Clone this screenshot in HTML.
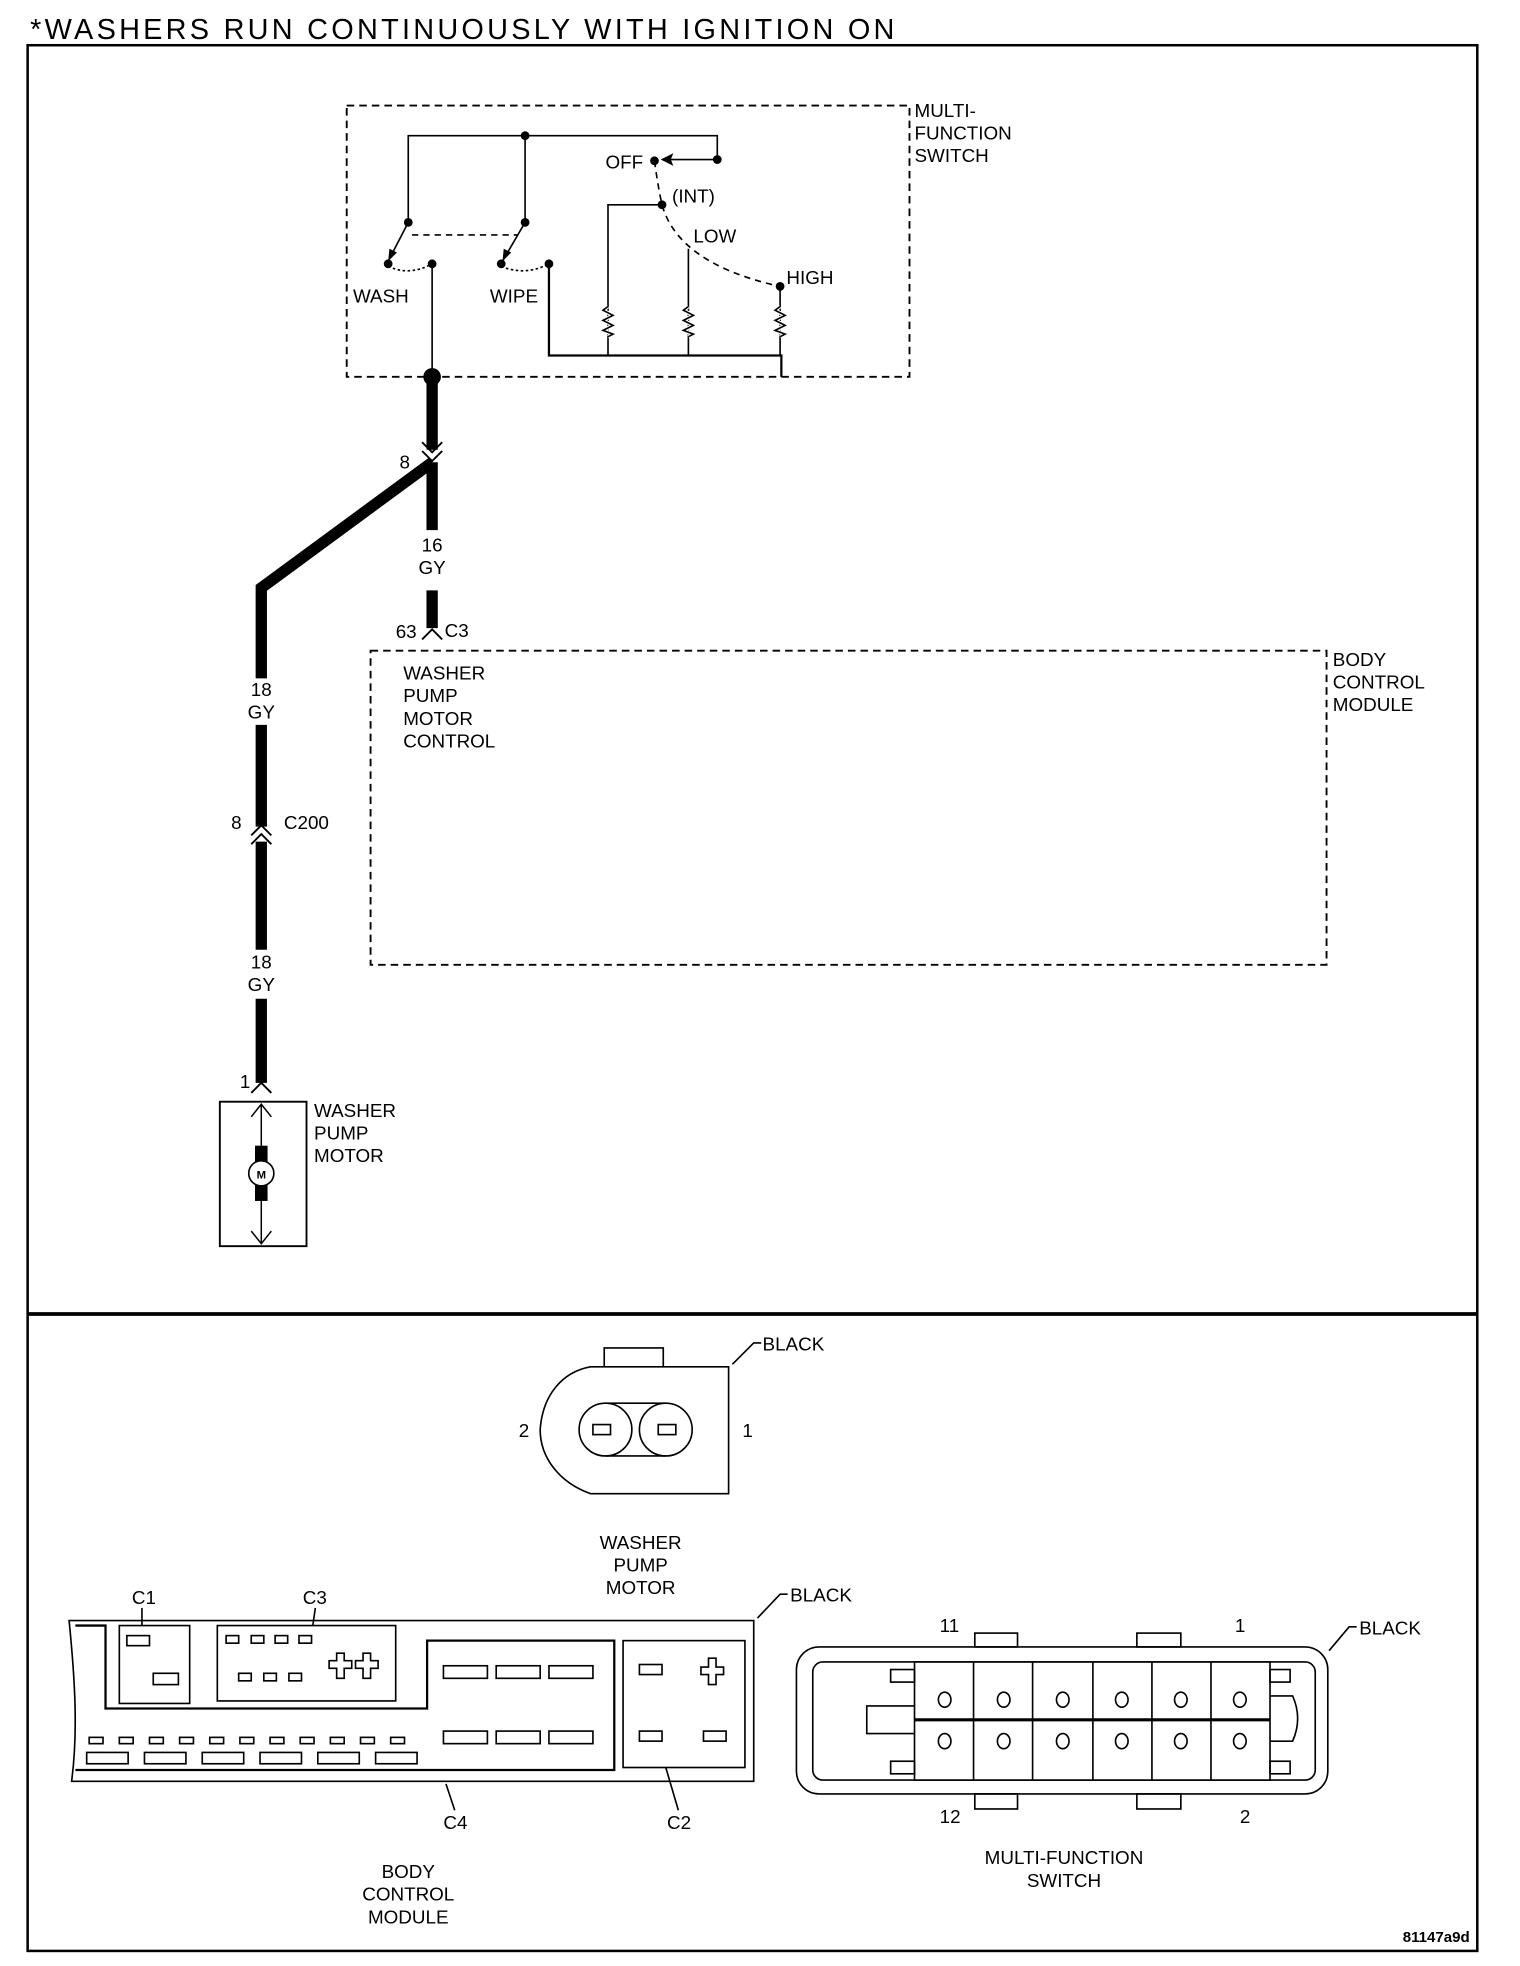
<!DOCTYPE html>
<html><head><meta charset="utf-8"><style>
html,body{margin:0;padding:0;background:#fff;}
svg{display:block;}
text{font-family:"Liberation Sans",sans-serif;font-size:15px;fill:#000;}
</style></head><body>
<svg width="1520" height="1966" viewBox="0 0 1210 1565" preserveAspectRatio="none" xmlns="http://www.w3.org/2000/svg">
<rect width="1210" height="1565" fill="#fff"/>
<text x="24" y="31" style="font-size:23px" textLength="688">*WASHERS RUN CONTINUOUSLY WITH IGNITION ON</text>
<rect x="22" y="36" width="1154" height="1517" fill="none" stroke="#000" stroke-width="2"/>
<line x1="22" y1="1046" x2="1176" y2="1046" stroke="#000" stroke-width="3"/>

<!-- MFS dashed box -->
<rect x="276" y="84" width="448" height="216" fill="none" stroke="#000" stroke-width="1.5" stroke-dasharray="6,4"/>
<text x="728" y="93">MULTI-</text><text x="728" y="111">FUNCTION</text><text x="728" y="129">SWITCH</text>
<g stroke="#000" stroke-width="1.3" fill="none">
<polyline points="325,177 325,108 571,108 571,127"/>
<line x1="418" y1="108" x2="418" y2="177"/>
<line x1="571" y1="127" x2="527" y2="127"/>
<line x1="325" y1="177" x2="309" y2="208"/>
<line x1="418" y1="177" x2="400" y2="208"/>
<line x1="328" y1="187" x2="412" y2="187" stroke-dasharray="5,4"/>
<path d="M309,212 Q326,220 344,210" stroke-dasharray="2,2"/>
<path d="M399,212 Q418,220 437,210" stroke-dasharray="2,2"/>
<line x1="344" y1="210" x2="344" y2="300"/>
<polyline points="437,210 437,283 622,283 622,300" stroke-width="1.8"/>
<polyline points="527,163 484,163 484,283"/>
<line x1="548" y1="198" x2="548" y2="283"/>
<line x1="621" y1="228" x2="621" y2="283"/>
<path d="M521,128 Q524,150 527,163 Q540,210 621,228" stroke-dasharray="5,4"/>
<polyline points="484,244 480,247 488,251 480,255 488,259 480,263 488,266 484,268" stroke="#fff" stroke-width="3"/>
<polyline points="484,244 480,247 488,251 480,255 488,259 480,263 488,266 484,268"/>
<polyline points="548,244 544,247 552,251 544,255 552,259 544,263 552,266 548,268" stroke="#fff" stroke-width="3"/>
<polyline points="548,244 544,247 552,251 544,255 552,259 544,263 552,266 548,268"/>
<polyline points="621,244 617,247 625,251 617,255 625,259 617,263 625,266 621,268" stroke="#fff" stroke-width="3"/>
<polyline points="621,244 617,247 625,251 617,255 625,259 617,263 625,266 621,268"/>
</g>
<g fill="#000">
<circle cx="418" cy="108" r="3.5"/><circle cx="571" cy="127" r="3.5"/><circle cx="521" cy="128" r="3.5"/>
<circle cx="325" cy="177" r="3.5"/><circle cx="418" cy="177" r="3.5"/>
<circle cx="309" cy="210" r="3.5"/><circle cx="344" cy="210" r="3.5"/>
<circle cx="399" cy="210" r="3.5"/><circle cx="437" cy="210" r="3.5"/>
<circle cx="527" cy="163" r="3.5"/><circle cx="621" cy="228" r="3.5"/>
<polygon points="526,127 536,122 534,127 536,132"/>
<polygon points="309,208 310,198 316,201"/>
<polygon points="400,208 401,198 407,201"/>
<circle cx="344" cy="300" r="7"/>
</g>
<text x="482" y="134">OFF</text><text x="535" y="161">(INT)</text><text x="552" y="193">LOW</text><text x="626" y="226">HIGH</text>
<text x="281" y="241">WASH</text><text x="390" y="241">WIPE</text>

<!-- thick wires -->
<g stroke="#000" stroke-width="9" fill="none">
<line x1="344" y1="300" x2="344" y2="358"/>
<polyline points="344,368 208,468 208,540"/>
<line x1="344" y1="368" x2="344" y2="422"/>
<line x1="344" y1="470" x2="344" y2="500"/>
<line x1="208" y1="577" x2="208" y2="658"/>
<line x1="208" y1="670" x2="208" y2="756"/>
<line x1="208" y1="795" x2="208" y2="862"/>
</g>
<g stroke="#000" stroke-width="1.5" fill="none">
<polyline points="336,352 344,360 352,352"/><polyline points="336,359 344,367 352,359"/>
<polyline points="336,509 344,501 352,509"/>
<polyline points="200,665 208,657 216,665"/><polyline points="200,672 208,664 216,672"/>
<polyline points="200,870 208,862 216,870"/>
</g>
<text x="318" y="373">8</text>
<text x="344" y="439" text-anchor="middle">16</text><text x="344" y="457" text-anchor="middle">GY</text>
<text x="315" y="508">63</text><text x="354" y="507">C3</text>
<text x="208" y="554" text-anchor="middle">18</text><text x="208" y="572" text-anchor="middle">GY</text>
<text x="184" y="660">8</text><text x="226" y="660">C200</text>
<text x="208" y="771" text-anchor="middle">18</text><text x="208" y="789" text-anchor="middle">GY</text>
<text x="191" y="866">1</text>

<!-- BCM dashed -->
<rect x="295" y="518" width="761" height="250" fill="none" stroke="#000" stroke-width="1.5" stroke-dasharray="6,4"/>
<text x="1061" y="530">BODY</text><text x="1061" y="548">CONTROL</text><text x="1061" y="566">MODULE</text>
<text x="321" y="541">WASHER</text><text x="321" y="559">PUMP</text><text x="321" y="577">MOTOR</text><text x="321" y="595">CONTROL</text>

<!-- motor -->
<rect x="175" y="877" width="69" height="115" fill="none" stroke="#000" stroke-width="1.5"/>
<g stroke="#000" stroke-width="1.2" fill="none">
<line x1="208" y1="879" x2="208" y2="990"/>
<polyline points="200,889 208,879 216,889"/><polyline points="200,980 208,990 216,980"/>
</g>
<rect x="203" y="912" width="10" height="44" fill="#000"/>
<circle cx="208" cy="934" r="10" fill="#fff" stroke="#000" stroke-width="1.3"/>
<text x="208" y="938" text-anchor="middle" style="font-size:9px;font-weight:bold">M</text>
<text x="250" y="889">WASHER</text><text x="250" y="907">PUMP</text><text x="250" y="925">MOTOR</text>

<!-- bottom pump connector -->
<g stroke="#000" stroke-width="1.3" fill="none">
<path d="M481,1088 V1073 H528 V1088"/>
<path d="M580,1088 V1189 H470 C445,1180 430,1160 430,1138 C432,1110 448,1092 470,1088 Z" fill="#fff"/>
<circle cx="482" cy="1138" r="21"/><circle cx="530" cy="1138" r="21"/>
<line x1="482" y1="1117" x2="530" y2="1117"/><line x1="482" y1="1159" x2="530" y2="1159"/>
<rect x="472" y="1134" width="14" height="8"/><rect x="524" y="1134" width="14" height="8"/>
<polyline points="606,1069 600,1069 583,1086"/>
</g>
<text x="413" y="1144">2</text><text x="591" y="1144">1</text>
<text x="607" y="1075">BLACK</text>
<text x="510" y="1233" text-anchor="middle">WASHER</text><text x="510" y="1251" text-anchor="middle">PUMP</text><text x="510" y="1269" text-anchor="middle">MOTOR</text>

<!-- BCM connector -->
<g stroke="#000" stroke-width="1.3" fill="none">
<path d="M55,1290 H600 V1418 H57 C62,1380 60,1340 55,1290 Z"/>
<polyline points="60,1294 84,1294 84,1360 340,1360 340,1306 489,1306 489,1409 60,1409" stroke-width="1.8"/>
<rect x="95" y="1294" width="56" height="62"/>
<rect x="173" y="1294" width="142" height="60"/>
<rect x="496" y="1306" width="97" height="101"/>
<rect x="101" y="1302" width="18" height="8"/><rect x="122" y="1332" width="20" height="9"/>
<rect x="180" y="1302" width="10" height="6"/><rect x="200" y="1302" width="10" height="6"/><rect x="219" y="1302" width="10" height="6"/><rect x="238" y="1302" width="10" height="6"/>
<rect x="190" y="1332" width="10" height="6"/><rect x="210" y="1332" width="10" height="6"/><rect x="230" y="1332" width="10" height="6"/>
<path d="M262,1322 h6 v-6 h6 v6 h6 v6 h-6 v8 h-6 v-8 h-6 z"/>
<path d="M283,1322 h6 v-6 h6 v6 h6 v6 h-6 v8 h-6 v-8 h-6 z"/>
<rect x="353" y="1326" width="35" height="10"/><rect x="395" y="1326" width="35" height="10"/><rect x="437" y="1326" width="35" height="10"/>
<rect x="353" y="1378" width="35" height="10"/><rect x="395" y="1378" width="35" height="10"/><rect x="437" y="1378" width="35" height="10"/>
<rect x="509" y="1325" width="18" height="8"/><rect x="509" y="1378" width="18" height="8"/><rect x="560" y="1378" width="18" height="8"/>
<path d="M558,1327 h6 v-7 h6 v7 h6 v6 h-6 v8 h-6 v-8 h-6 z"/>
<rect x="71" y="1383" width="11" height="5"/><rect x="95" y="1383" width="11" height="5"/><rect x="119" y="1383" width="11" height="5"/><rect x="143" y="1383" width="11" height="5"/><rect x="167" y="1383" width="11" height="5"/><rect x="191" y="1383" width="11" height="5"/><rect x="215" y="1383" width="11" height="5"/><rect x="239" y="1383" width="11" height="5"/><rect x="263" y="1383" width="11" height="5"/><rect x="287" y="1383" width="11" height="5"/><rect x="311" y="1383" width="11" height="5"/>
<rect x="69" y="1395" width="33" height="9"/><rect x="115" y="1395" width="33" height="9"/><rect x="161" y="1395" width="33" height="9"/><rect x="207" y="1395" width="33" height="9"/><rect x="253" y="1395" width="33" height="9"/><rect x="299" y="1395" width="33" height="9"/>
<line x1="113" y1="1280" x2="113" y2="1294"/><line x1="251" y1="1280" x2="249" y2="1294"/>
<line x1="362" y1="1441" x2="355" y2="1420"/><line x1="540" y1="1441" x2="530" y2="1407"/>
<polyline points="627,1269 621,1269 603,1288"/>
</g>
<text x="105" y="1277">C1</text><text x="241" y="1277">C3</text>
<text x="353" y="1456">C4</text><text x="531" y="1456">C2</text>
<text x="629" y="1275">BLACK</text>
<text x="325" y="1495" text-anchor="middle">BODY</text><text x="325" y="1513" text-anchor="middle">CONTROL</text><text x="325" y="1531" text-anchor="middle">MODULE</text>

<!-- MFS connector -->
<g stroke="#000" stroke-width="1.3" fill="none">
<rect x="634" y="1311" width="423" height="117" rx="18"/>
<rect x="647" y="1323" width="400" height="94" rx="8"/>
<rect x="776" y="1300" width="34" height="11"/><rect x="905" y="1300" width="35" height="11"/>
<rect x="776" y="1428" width="34" height="12"/><rect x="905" y="1428" width="35" height="12"/>
<rect x="728" y="1323" width="283" height="94" fill="#fff"/>
<line x1="775" y1="1323" x2="775" y2="1417"/><line x1="822" y1="1323" x2="822" y2="1417"/><line x1="870" y1="1323" x2="870" y2="1417"/><line x1="917" y1="1323" x2="917" y2="1417"/><line x1="964" y1="1323" x2="964" y2="1417"/>
<line x1="728" y1="1369" x2="1011" y2="1369" stroke-width="2.5"/>
<ellipse cx="752" cy="1353" rx="5" ry="6"/><ellipse cx="799" cy="1353" rx="5" ry="6"/><ellipse cx="846" cy="1353" rx="5" ry="6"/><ellipse cx="893" cy="1353" rx="5" ry="6"/><ellipse cx="940" cy="1353" rx="5" ry="6"/><ellipse cx="987" cy="1353" rx="5" ry="6"/>
<ellipse cx="752" cy="1386" rx="5" ry="6"/><ellipse cx="799" cy="1386" rx="5" ry="6"/><ellipse cx="846" cy="1386" rx="5" ry="6"/><ellipse cx="893" cy="1386" rx="5" ry="6"/><ellipse cx="940" cy="1386" rx="5" ry="6"/><ellipse cx="987" cy="1386" rx="5" ry="6"/>
<rect x="709" y="1329" width="19" height="10"/><rect x="709" y="1402" width="19" height="10"/>
<rect x="1011" y="1329" width="16" height="10"/><rect x="1011" y="1402" width="16" height="10"/>
<polyline points="728,1358 690,1358 690,1380 728,1380"/>
<path d="M1011,1350 h18 q8,18 0,36 h-18"/>
<polyline points="1080,1295 1074,1295 1058,1314"/>
</g>
<text x="748" y="1299">11</text><text x="983" y="1299">1</text>
<text x="748" y="1451">12</text><text x="987" y="1451">2</text>
<text x="1082" y="1301">BLACK</text>
<text x="847" y="1484" text-anchor="middle">MULTI-FUNCTION</text><text x="847" y="1502" text-anchor="middle">SWITCH</text>
<text x="1170" y="1546" text-anchor="end" style="font-size:12px;font-weight:bold">81147a9d</text>
</svg>
</body></html>
